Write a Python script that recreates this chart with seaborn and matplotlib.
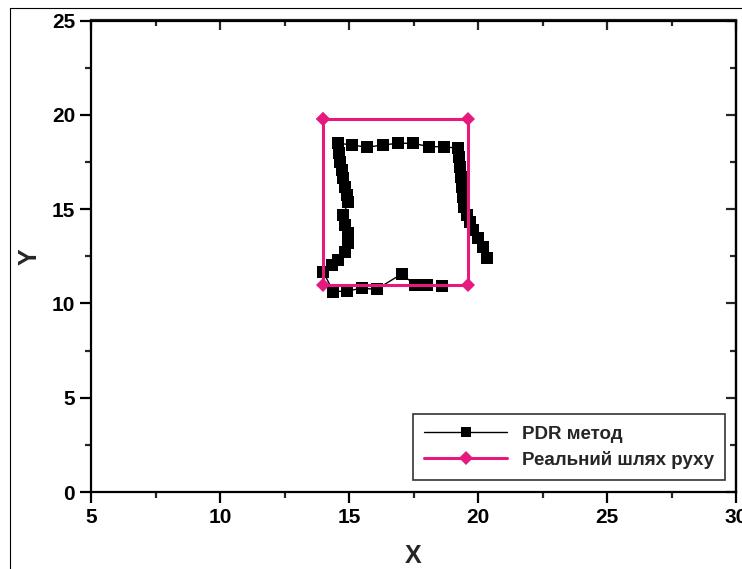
import matplotlib
matplotlib.use("Agg")
import matplotlib.pyplot as plt
from matplotlib.ticker import MultipleLocator
from matplotlib.lines import Line2D
import seaborn as sns
import pandas as pd

# PDR method estimated trajectory
pdr_x = [18.59, 18.01, 17.56, 17.04, 16.07, 15.49, 14.91, 14.39,
         14.00, 14.33, 14.59, 14.84, 14.97, 14.97, 14.84, 14.78, 14.97, 14.91,
         14.84, 14.78, 14.72, 14.65, 14.62, 14.59,
         15.12, 15.70, 16.32, 16.90, 17.48, 18.10, 18.68,
         19.24, 19.28, 19.30, 19.33, 19.37, 19.41, 19.46, 19.56, 19.69,
         19.82, 20.01, 20.21, 20.34]
pdr_y = [10.92, 10.98, 10.98, 11.56, 10.75, 10.80, 10.66, 10.62,
         11.68, 12.04, 12.30, 12.74, 13.19, 13.72, 14.16, 14.69, 15.39, 15.75,
         16.19, 16.63, 17.07, 17.51, 17.96, 18.49,
         18.40, 18.28, 18.40, 18.49, 18.49, 18.31, 18.31,
         18.22, 17.78, 17.25, 16.72, 16.19, 15.66, 15.13, 14.69, 14.33,
         13.89, 13.45, 13.01, 12.39]

# Real walking path
real_x = [14.0, 19.6, 19.6, 14.0, 14.0]
real_y = [19.8, 19.8, 11.0, 11.0, 19.8]

label_pdr = "PDR метод"
label_real = "Реальний шлях руху"

sns.set_theme(style="white")
plt.rcParams['font.family'] = ['Liberation Sans', 'DejaVu Sans']
plt.rcParams['font.weight'] = 'bold'

fig = plt.figure(figsize=(7.42, 5.69), dpi=100)
ax = fig.add_axes([91/742, 1-492/569, (736-91)/742, (492-20.5)/569])

pink = '#E6197F'
df_pdr = pd.DataFrame({'x': pdr_x, 'y': pdr_y})
df_real = pd.DataFrame({'x': real_x, 'y': real_y})

sns.lineplot(data=df_pdr, x='x', y='y', sort=False, estimator=None, ax=ax,
             color='black', linewidth=1.0, marker='s', markersize=8.5,
             markeredgewidth=0, label=label_pdr)
sns.lineplot(data=df_real, x='x', y='y', sort=False, estimator=None, ax=ax,
             color=pink, linewidth=2.2, marker='D', markersize=7,
             markeredgewidth=0, label=label_real)

ax.set_xlim(5, 30)
ax.set_ylim(0, 25)
ax.xaxis.set_major_locator(MultipleLocator(5))
ax.xaxis.set_minor_locator(MultipleLocator(2.5))
ax.yaxis.set_major_locator(MultipleLocator(5))
ax.yaxis.set_minor_locator(MultipleLocator(2.5))
ax.tick_params(which='major', direction='out', length=8, width=1.6,
               labelsize=15, colors='black', bottom=True, left=True)
ax.tick_params(which='minor', direction='out', length=4.5, width=1.6,
               bottom=True, left=True)
for lab in ax.get_xticklabels() + ax.get_yticklabels():
    lab.set_fontweight('bold')

for s in ax.spines.values():
    s.set_visible(True)
    s.set_color('black')
    s.set_linewidth(1.6)

secx = ax.secondary_xaxis('top')
secx.xaxis.set_major_locator(MultipleLocator(5))
secx.xaxis.set_minor_locator(MultipleLocator(2.5))
secx.tick_params(which='major', direction='in', length=7, width=1.6, labeltop=False, top=True)
secx.tick_params(which='minor', direction='in', length=4.5, width=1.6, top=True)
secx.spines['top'].set_linewidth(1.6)
secy = ax.secondary_yaxis('right')
secy.yaxis.set_major_locator(MultipleLocator(5))
secy.yaxis.set_minor_locator(MultipleLocator(2.5))
secy.tick_params(which='major', direction='in', length=7, width=1.6, labelright=False, right=True)
secy.tick_params(which='minor', direction='in', length=4.5, width=1.6, right=True)
secy.spines['right'].set_linewidth(1.6)

ax.set_xlabel('X', fontsize=18, fontweight='bold', labelpad=12)
ax.set_ylabel('Y', fontsize=18, fontweight='bold', labelpad=7)

leg = ax.legend(loc='lower right', bbox_to_anchor=(0.983, 0.025), frameon=True,
                fancybox=False, edgecolor='black', borderaxespad=0,
                handlelength=4.4, borderpad=0.6, labelspacing=0.45,
                prop={'weight': 'bold', 'size': 13.5})
leg.get_frame().set_linewidth(1.2)
leg.legend_handles[0].set_markersize(6.5)

# Outer figure frame (cropped)
fig.add_artist(Line2D([10/742, 10/742], [0, 1-8/569], transform=fig.transFigure,
                      color='black', linewidth=0.8))
fig.add_artist(Line2D([10/742, 1], [1-8/569, 1-8/569], transform=fig.transFigure,
                      color='black', linewidth=0.8))

fig.savefig('out.png', dpi=100)
